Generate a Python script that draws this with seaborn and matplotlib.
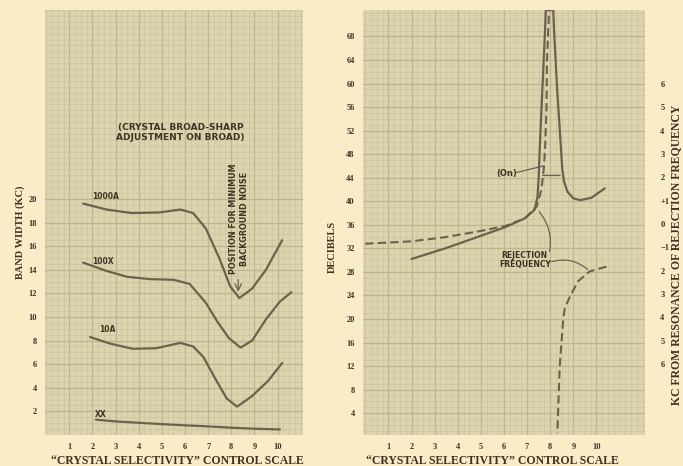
import matplotlib
matplotlib.use("Agg")
import matplotlib.pyplot as plt
import seaborn as sns
import pandas as pd
from matplotlib.ticker import MultipleLocator

# ---------------- data ----------------
# Left panel: band width (kc) vs "crystal selectivity" control setting
x_1000a = [1.6, 2.6, 3.7, 4.9, 5.8, 6.35, 6.9, 7.5, 7.95, 8.35, 8.9, 9.5, 10.2]
y_1000a = [19.6, 19.1, 18.8, 18.85, 19.1, 18.8, 17.5, 14.9, 12.6, 11.6, 12.4, 14.0, 16.5]

x_100x = [1.6, 2.6, 3.5, 4.5, 5.5, 6.2, 6.9, 7.4, 7.9, 8.4, 8.9, 9.5, 10.1, 10.6]
y_100x = [14.6, 13.9, 13.4, 13.2, 13.15, 12.8, 11.2, 9.6, 8.2, 7.4, 8.0, 9.8, 11.3, 12.1]

x_10a = [1.9, 2.75, 3.75, 4.75, 5.8, 6.35, 6.8, 7.3, 7.8, 8.25, 8.9, 9.6, 10.2]
y_10a = [8.3, 7.75, 7.3, 7.35, 7.8, 7.5, 6.6, 4.8, 3.1, 2.4, 3.3, 4.6, 6.1]

x_xx = [2.15, 3.0, 4.05, 5.0, 6.0, 6.9, 8.0, 9.0, 10.1]
y_xx = [1.3, 1.15, 1.03, 0.92, 0.82, 0.74, 0.62, 0.53, 0.47]

# Right panel: decibels vs control setting
x_db = [2.0, 3.45, 4.9, 6.05, 6.9, 7.33, 7.45, 7.5, 7.55, 7.66, 7.77, 7.81,
        8.13, 8.17, 8.3, 8.46, 8.52, 8.6, 8.75, 9.0, 9.3, 9.78, 10.36]
y_db = [30.2, 32.0, 34.0, 35.6, 37.1, 38.6, 40.8, 44.0, 49.3, 59.0, 68.6, 72.5,
        72.5, 68.6, 59.0, 49.3, 45.5, 43.3, 41.6, 40.5, 40.2, 40.6, 42.2]

x_rej_up = [0.0, 2.0, 3.45, 4.9, 6.05, 6.9, 7.41, 7.62, 7.73, 7.78, 7.84, 7.86, 7.95]
y_rej_up = [32.8, 33.2, 33.9, 34.9, 35.8, 37.1, 39.1, 42.0, 45.9, 49.3, 56.0, 64.0, 72.5]

x_rej_low = [10.43, 9.71, 9.2, 8.85, 8.63, 8.56, 8.41, 8.31]
y_rej_low = [28.9, 28.1, 26.4, 23.8, 21.8, 19.9, 11.9, 0.6]

sel_ticks = [1, 2, 3, 4, 5, 6, 7, 8, 9, 10]
bw_ticks = [2, 4, 6, 8, 10, 12, 14, 16, 18, 20]
db_ticks = [4, 8, 12, 16, 20, 24, 28, 32, 36, 40, 44, 48, 52, 56, 60, 64, 68]
kc_ticks = [6, 5, 4, 3, 2, 1, 0, -1, -2, -3, -4, -5, -6]
kc_labels = ["6", "5", "4", "3", "2", "+1", "0", "\u22121", "2", "3", "4", "5", "6"]

# ---------------- style ----------------
BG = "#f8edc6"
PAPER = "#dcd4ae"
MAJ = "#bfb48e"
MIN = "#cdc49f"
LC = "#6e604e"
TC = "#3e3326"

sns.set_theme(style="white")
plt.rcParams["font.family"] = ["Liberation Serif", "DejaVu Sans"]

fig = plt.figure(figsize=(6.83, 4.66), dpi=100, facecolor=BG)
axL = fig.add_axes([45 / 683, 31 / 466, 258 / 683, 425 / 466])
axR = fig.add_axes([363 / 683, 31 / 466, 282 / 683, 425 / 466])


def paper(ax, xmin, ymin):
    ax.set_facecolor(PAPER)
    ax.xaxis.set_minor_locator(MultipleLocator(xmin))
    ax.yaxis.set_minor_locator(MultipleLocator(ymin))
    ax.grid(which="minor", color=MIN, lw=0.5)
    ax.grid(which="major", color=MAJ, lw=0.9)
    ax.set_axisbelow(True)
    for s in ax.spines.values():
        s.set_visible(False)
    ax.tick_params(which="both", length=0, labelsize=6, labelcolor=TC, pad=6)
    for lab in ax.get_xticklabels() + ax.get_yticklabels():
        lab.set_fontweight("bold")


# ----- left panel -----
for xs, ys in [(x_1000a, y_1000a), (x_100x, y_100x), (x_10a, y_10a), (x_xx, y_xx)]:
    sns.lineplot(x=xs, y=ys, ax=axL, color=LC, lw=1.6, sort=False, estimator=None)
axL.set_xlim(-0.05, 11.1)
axL.set_ylim(0, 36)
axL.set_xticks(sel_ticks)
axL.set_yticks(bw_ticks)
axL.set_xticklabels([str(t) for t in sel_ticks])
axL.set_yticklabels([str(t) for t in bw_ticks])
paper(axL, 0.25, 0.5)
axL.set_xlabel("")
axL.set_ylabel("")

lab_kw = dict(color=TC, fontsize=5.5, fontweight="bold", family=["DejaVu Sans"])
axL.text(2.0, 20.0, "1000A", **lab_kw)
axL.text(2.0, 14.5, "100X", **lab_kw)
axL.text(2.3, 8.7, "10A", **lab_kw)
axL.text(2.1, 1.5, "XX", **lab_kw)
axL.text(5.8, 25.6, "(CRYSTAL BROAD-SHARP\nADJUSTMENT ON BROAD)", ha="center", va="center",
         color=TC, fontsize=6.5, fontweight="bold", family=["DejaVu Sans"], linespacing=1.1)
axL.text(8.35, 18.3, "POSITION FOR MINIMUM\nBACKGROUND NOISE", rotation=90, ha="center",
         va="center", color=TC, fontsize=5.8, fontweight="bold", family=["DejaVu Sans"],
         linespacing=1.3)
axL.annotate("", xy=(8.3, 11.9), xytext=(8.3, 13.4),
             arrowprops=dict(arrowstyle="->", color=LC, lw=0.9))

# ----- right panel -----
sns.lineplot(x=x_db, y=y_db, ax=axR, color=LC, lw=1.6, sort=False, estimator=None)
sns.lineplot(x=x_rej_up, y=y_rej_up, ax=axR, color=LC, lw=1.5, sort=False,
             estimator=None, dashes=False, linestyle=(0, (4, 2)))
sns.lineplot(x=x_rej_low, y=y_rej_low, ax=axR, color=LC, lw=1.5, sort=False,
             estimator=None, dashes=False, linestyle=(0, (4, 2)))
axR.set_xlim(-0.1, 12.1)
axR.set_ylim(0.3, 72.5)
axR.set_xticks(sel_ticks)
axR.set_yticks(db_ticks)
axR.set_xticklabels([str(t) for t in sel_ticks])
axR.set_yticklabels([str(t) for t in db_ticks])
paper(axR, 0.25, 1)
axR.set_xlabel("")
axR.set_ylabel("")

axR.text(6.1, 44.8, "(On)", ha="center", va="center", color=TC, fontsize=6,
         fontweight="bold", family=["DejaVu Sans"])
axR.plot([6.55, 7.7], [44.9, 46.0], color=LC, lw=0.9)
axR.annotate("", xy=(8.55, 44.4), xytext=(7.55, 44.4),
             arrowprops=dict(arrowstyle="-", color=LC, lw=1.0))
axR.text(6.9, 30.0, "REJECTION\nFREQUENCY", ha="center", va="center", color=TC,
         fontsize=5.5, fontweight="bold", family=["DejaVu Sans"], linespacing=1.0)
axR.annotate("", xy=(7.45, 38.6), xytext=(7.95, 31.0),
             arrowprops=dict(arrowstyle="-", color=LC, lw=0.9,
                             connectionstyle="arc3,rad=0.25"))
axR.annotate("", xy=(9.71, 28.1), xytext=(7.95, 29.6),
             arrowprops=dict(arrowstyle="-", color=LC, lw=0.9,
                             connectionstyle="arc3,rad=-0.3"))

axT = axR.twinx()
axT.set_ylim(-9.04, 9.17)
axT.set_yticks(kc_ticks)
axT.set_yticklabels(kc_labels)
axT.tick_params(length=0, labelsize=6, labelcolor=TC, pad=11)
for lab in axT.get_yticklabels():
    lab.set_fontweight("bold")
for s in axT.spines.values():
    s.set_visible(False)
axT.grid(False)

# ----- axis titles -----
tkw = dict(color=TC, fontweight="bold", family=["Liberation Serif"])
fig.text(177 / 683, 1 - 461 / 466, "\u201cCRYSTAL SELECTIVITY\u201d CONTROL SCALE",
         ha="center", va="center", fontsize=8.5, **tkw)
fig.text(492 / 683, 1 - 461 / 466, "\u201cCRYSTAL SELECTIVITY\u201d CONTROL SCALE",
         ha="center", va="center", fontsize=8.5, **tkw)
fig.text(20 / 683, 1 - 232 / 466, "BAND WIDTH (KC)", rotation=90, ha="center",
         va="center", fontsize=7.5, **tkw)
fig.text(332 / 683, 1 - 247 / 466, "DECIBELS", rotation=90, ha="center",
         va="center", fontsize=7.5, **tkw)
fig.text(676 / 683, 1 - 255 / 466, "KC FROM RESONANCE OF REJECTION FREQUENCY",
         rotation=90, ha="center", va="center", fontsize=8.5, **tkw)

fig.savefig("out.png", dpi=100, facecolor=BG)
